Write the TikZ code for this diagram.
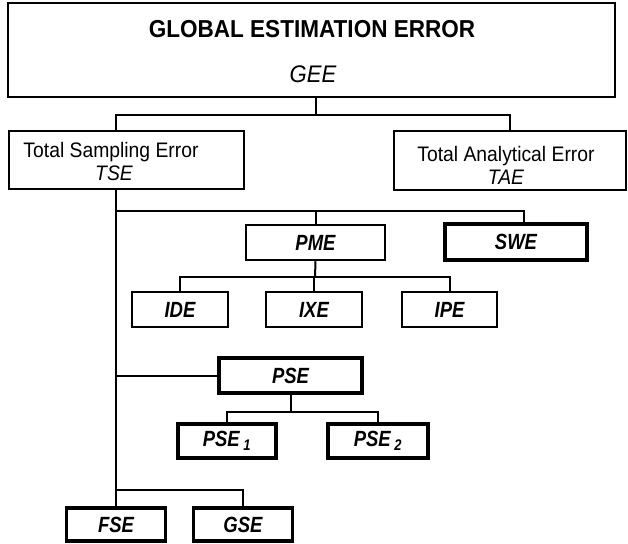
\documentclass[tikz,border=0pt]{standalone}
\usepackage{fontspec}
\setmainfont[FakeStretch=0.92]{Liberation Sans}
\newfontfamily\labelfont[FakeStretch=0.84]{Liberation Sans}
\begin{document}
\begin{tikzpicture}[x=1pt,y=-1pt,
  box/.style={draw, line width=#1, inner sep=0pt,
    font=\labelfont\bfseries\itshape\fontsize{22}{24}\selectfont},
  box/.default=2pt,
  frame/.style={draw, line width=1.8pt, inner sep=0pt},
  conn/.style={line width=2pt},
  heading/.style={font=\bfseries\fontsize{24.5}{26}\selectfont, inner sep=0pt},
  plain/.style={font=\fontsize{21}{23}\selectfont, inner sep=0pt},
  abbrev/.style={font=\itshape\fontsize{21}{23}\selectfont, inner sep=0pt},
]
\useasboundingbox (0,0) rectangle (628,543);

% --- top level ---
\node[frame, minimum width=607, minimum height=94] (gee) at (311.5,50) {};
\node[heading] (geeT) at (312,29) {GLOBAL ESTIMATION ERROR};
\node[abbrev, font=\itshape\fontsize{24}{26}\selectfont] (geeA) at (313,74) {GEE};

\node[frame, minimum width=235, minimum height=58] (tse) at (126.5,160) {};
\node[plain] (tseT) at (111,152) {Total Sampling Error};
\node[abbrev] (tseA) at (114,173) {TSE};

\node[frame, minimum width=232, minimum height=59] (tae) at (510,160.5) {};
\node[plain] (taeT) at (506,156) {Total Analytical Error};
\node[abbrev] (taeA) at (506,177) {TAE};

% --- sampling error components ---
\node[box=2.5pt, minimum width=139, minimum height=35] (pme) at (315.5,242.5) {PME};
\node[box=3.5pt, minimum width=142, minimum height=36] (swe) at (516,242) {SWE};

\node[box=2pt, minimum width=96, minimum height=35] (ide) at (180,309.5) {IDE};
\node[box=2pt, minimum width=96, minimum height=35] (ixe) at (314,309.5) {IXE};
\node[box=2pt, minimum width=95, minimum height=35] (ipe) at (449.5,309.5) {IPE};

\node[box=4pt, minimum width=143, minimum height=35] (pse) at (290.5,375.5) {PSE};
\node[box=3.5pt, minimum width=98, minimum height=34] (pse1) at (227,441) {PSE\,\textsubscript{1}};
\node[box=3.5pt, minimum width=100, minimum height=34] (pse2) at (378,441) {PSE\,\textsubscript{2}};

\node[box=3.5pt, minimum width=99, minimum height=33] (fse) at (116,524.5) {FSE};
\node[box=3.5pt, minimum width=99, minimum height=33] (gse) at (243,524.5) {GSE};

% --- connectors ---
\coordinate (trunk) at (116,0);
\coordinate (j1) at (316,115);
\coordinate (j2) at (116,211);
\coordinate (j3) at (315,277);

\draw[conn] (gee.south -| j1) -- (j1);
\draw[conn] (tse.north -| trunk) |- (j1) -| (tae.north);
\draw[conn] (tse.south -| trunk) -- (fse.north);

\draw[conn] (j2) -| ([xshift=8pt]swe.north);
\draw[conn] (pme.north) -- (pme.north |- j2);

\draw[conn] (pme.south) -- (j3);
\draw[conn] (ide.north) |- (j3) -| (ipe.north);
\draw[conn] (ixe.north) -- (ixe.north |- j3);

\draw[conn] (pse.west) -- (pse.west -| trunk);
\draw[conn] (pse.south) -- ++(0,17) coordinate (j4);
\draw[conn] (pse1.north) |- (j4) -| (pse2.north);

\draw[conn] (fse.north) -- ++(0,-16) -| (gse.north);
\end{tikzpicture}
\end{document}
